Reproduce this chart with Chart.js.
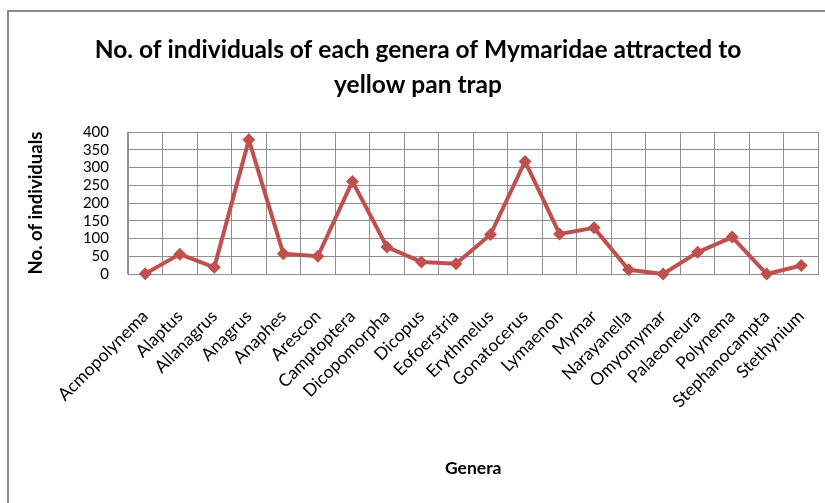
<!DOCTYPE html>
<html>
<head>
<meta charset="utf-8">
<script src="https://cdn.jsdelivr.net/npm/chart.js@4"></script>
<style>
    body { margin: 0; overflow: hidden; background: #fff; }
    #frame {
        position: absolute; left: 7px; top: 10px; width: 900px; height: 600px;
        border-left: 2px solid #8a8a8a; border-top: 2px solid #8a8a8a;
    }
    #chart { position: absolute; left: 0; top: 0; }
</style>
</head>
<body>
<div id="frame"></div>
<canvas id="chart" width="825" height="503"></canvas>
<script>
// --- Chart data ---
const genera = [
    "Acmopolynema", "Alaptus", "Allanagrus", "Anagrus", "Anaphes", "Arescon",
    "Camptoptera", "Dicopomorpha", "Dicopus", "Eofoerstria", "Erythmelus",
    "Gonatocerus", "Lymaenon", "Mymar", "Narayanella", "Omyomymar",
    "Palaeoneura", "Polynema", "Stephanocampta", "Stethynium"
];
const individuals = [1, 56, 19, 378, 57, 50, 261, 76, 34, 29, 111, 317, 113, 130, 12, 0, 61, 104, 0, 24];
const yTicks = [0, 50, 100, 150, 200, 250, 300, 350, 400];

const titleLines = ["No. of individuals of each genera of Mymaridae attracted to", "yellow pan trap"];

document.addEventListener("DOMContentLoaded", () => {
    const FONT = "Lato, 'Open Sans', sans-serif";
    const gridColor = "#8f8f8f";

    const ctx = document.getElementById("chart").getContext("2d");
    new Chart(ctx, {
        type: "line",
        data: {
            labels: genera,
            datasets: [{
                label: "No. of individuals",
                data: individuals,
                borderColor: "#C0504D",
                backgroundColor: "#C0504D",
                borderWidth: 4,
                pointStyle: "rectRot",
                pointRadius: 6.5,
                pointBorderWidth: 0,
                tension: 0,
                clip: false
            }]
        },
        options: {
            responsive: false,
            animation: false,
            layout: { padding: { left: 16, right: 5, top: 0, bottom: 0 } },
            plugins: {
                legend: { display: false },
                tooltip: { enabled: false },
                title: {
                    display: true,
                    text: titleLines,
                    color: "#000",
                    font: { family: FONT, size: 24.5, weight: "bold", lineHeight: 1.45 },
                    padding: { top: 32, bottom: 29 }
                }
            },
            scales: {
                x: {
                    offset: true,
                    grid: { offset: true, color: gridColor, drawTicks: false },
                    border: { color: gridColor },
                    ticks: {
                        autoSkip: false,
                        maxRotation: 45,
                        minRotation: 45,
                        padding: 32,
                        color: "#000",
                        font: { family: FONT, size: 17.5 }
                    },
                    title: {
                        display: true,
                        text: "Genera",
                        color: "#000",
                        font: { family: FONT, size: 17.5, weight: "bold" },
                        padding: { top: 0, bottom: 24 }
                    },
                    // keep the plot running to the right edge like the original
                    afterFit: scale => {
                        scale.height = 229;
                        scale.paddingLeft = 0;
                        scale.paddingRight = 0;
                    }
                },
                y: {
                    min: 0,
                    max: 400,
                    afterBuildTicks: scale => { scale.ticks = yTicks.map(v => ({ value: v })); },
                    grid: { color: gridColor, drawTicks: false },
                    border: { color: gridColor },
                    ticks: {
                        autoSkip: false,
                        padding: 19,
                        color: "#000",
                        font: { family: FONT, size: 15, lineHeight: 1 }
                    },
                    title: {
                        display: true,
                        text: "No. of individuals",
                        color: "#000",
                        font: { family: FONT, size: 18.5, weight: "bold" },
                        padding: { top: 9, bottom: 0 }
                    },
                    afterFit: scale => { scale.width = 112; }
                }
            }
        }
    });
});
</script>
</body>
</html>
